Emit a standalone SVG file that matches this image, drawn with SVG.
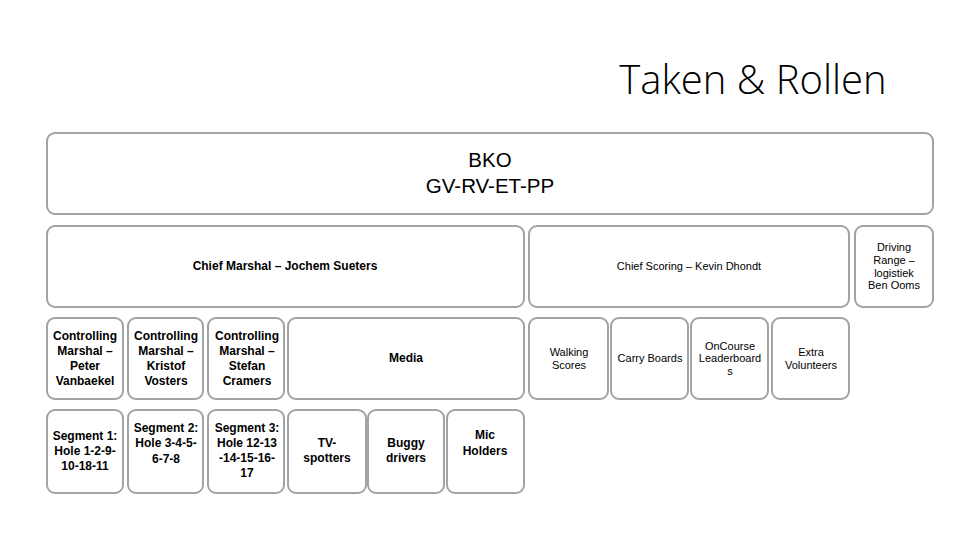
<svg xmlns="http://www.w3.org/2000/svg" width="960" height="540" viewBox="0 0 960 540">
<style>
.b{fill:#fff;stroke:#a3a3a3;stroke-width:2}
.t{font-family:"Liberation Sans","Open Sans",sans-serif;fill:#000;text-anchor:middle}
.s{font-size:11px}
.k{font-size:12px;font-weight:bold}
</style>
<rect width="960" height="540" fill="#fff"/>
<text x="753" y="94" class="t" style="font-family:'Open Sans','Liberation Sans',sans-serif;font-size:40px;font-weight:300" fill="#262626">Taken &amp; Rollen</text>
<g id="connectors"/>
<g id="bko"><rect class="b" x="47" y="133" width="886" height="81" rx="8"/><text class="t" x="490" y="167" font-size="20.5">BKO</text><text class="t" x="490" y="193" font-size="20.5">GV-RV-ET-PP</text></g>
<g id="chief-marshal"><rect class="b" x="47" y="226" width="477" height="81" rx="8"/><text class="t k" x="285" y="270">Chief Marshal – Jochem Sueters</text></g>
<g id="chief-scoring"><rect class="b" x="529" y="226" width="320" height="81" rx="8"/><text class="t s" x="689" y="270">Chief Scoring – Kevin Dhondt</text></g>
<g id="driving-range"><rect class="b" x="855" y="226" width="78" height="81" rx="8"/><text class="t s"><tspan x="894" y="251">Driving</tspan><tspan x="894" y="264">Range –</tspan><tspan x="894" y="277">logistiek</tspan><tspan x="894" y="289">Ben Ooms</tspan></text></g>
<g id="cm1"><rect class="b" x="47" y="318" width="76" height="81" rx="8"/><text class="t k"><tspan x="85" y="340">Controlling</tspan><tspan x="85" y="355">Marshal –</tspan><tspan x="85" y="370">Peter</tspan><tspan x="85" y="385">Vanbaekel</tspan></text></g>
<g id="cm2"><rect class="b" x="128" y="318" width="75" height="81" rx="8"/><text class="t k"><tspan x="166" y="340">Controlling</tspan><tspan x="166" y="355">Marshal –</tspan><tspan x="166" y="370">Kristof</tspan><tspan x="166" y="385">Vosters</tspan></text></g>
<g id="cm3"><rect class="b" x="208" y="318" width="76" height="81" rx="8"/><text class="t k"><tspan x="247" y="340">Controlling</tspan><tspan x="247" y="355">Marshal –</tspan><tspan x="247" y="370">Stefan</tspan><tspan x="247" y="385">Cramers</tspan></text></g>
<g id="media"><rect class="b" x="288" y="318" width="236" height="81" rx="8"/><text class="t k" x="406" y="362">Media</text></g>
<g id="walking"><rect class="b" x="529" y="318" width="79" height="81" rx="8"/><text class="t s"><tspan x="569" y="356">Walking</tspan><tspan x="569" y="369">Scores</tspan></text></g>
<g id="carry"><rect class="b" x="611" y="318" width="77" height="81" rx="8"/><text class="t s" x="650" y="362">Carry Boards</text></g>
<g id="oncourse"><rect class="b" x="691" y="318" width="77" height="81" rx="8"/><text class="t s"><tspan x="730" y="350">OnCourse</tspan><tspan x="730" y="362">Leaderboard</tspan><tspan x="730" y="375">s</tspan></text></g>
<g id="extra"><rect class="b" x="772" y="318" width="77" height="81" rx="8"/><text class="t s"><tspan x="811" y="356">Extra</tspan><tspan x="811" y="369">Volunteers</tspan></text></g>
<g id="seg1"><rect class="b" x="47" y="410" width="76" height="83" rx="8"/><text class="t k"><tspan x="85" y="440">Segment 1:</tspan><tspan x="85" y="455">Hole 1-2-9-</tspan><tspan x="85" y="470">10-18-11</tspan></text></g>
<g id="seg2"><rect class="b" x="128" y="410" width="75" height="83" rx="8"/><text class="t k"><tspan x="166" y="432">Segment 2:</tspan><tspan x="166" y="447">Hole 3-4-5-</tspan><tspan x="166" y="463">6-7-8</tspan></text></g>
<g id="seg3"><rect class="b" x="208" y="410" width="76" height="83" rx="8"/><text class="t k"><tspan x="247" y="432">Segment 3:</tspan><tspan x="247" y="447">Hole 12-13</tspan><tspan x="247" y="462">-14-15-16-</tspan><tspan x="247" y="477">17</tspan></text></g>
<g id="tv"><rect class="b" x="288" y="410" width="78" height="83" rx="8"/><text class="t k"><tspan x="327" y="447">TV-</tspan><tspan x="327" y="462">spotters</tspan></text></g>
<g id="buggy"><rect class="b" x="368" y="410" width="76" height="83" rx="8"/><text class="t k"><tspan x="406" y="447">Buggy</tspan><tspan x="406" y="462">drivers</tspan></text></g>
<g id="mic"><rect class="b" x="447" y="410" width="77" height="83" rx="8"/><text class="t k"><tspan x="485" y="439">Mic</tspan><tspan x="485" y="455">Holders</tspan></text></g>
</svg>
